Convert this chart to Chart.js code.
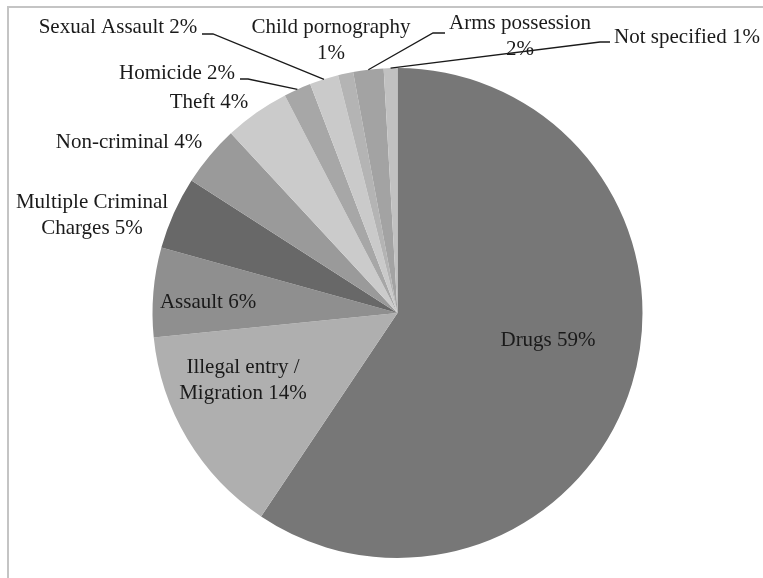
<!DOCTYPE html>
<html>
<head>
<meta charset="utf-8">
<title>Offence categories</title>
<script src="https://cdn.jsdelivr.net/npm/chart.js@4.4.1/dist/chart.umd.min.js"></script>
<style>
  html, body { margin: 0; padding: 0; background: #fff; overflow: hidden; }
  #wrap { position: relative; width: 763px; height: 578px; }
  #frame { position: absolute; left: 7px; top: 6px; width: 820px; height: 640px;
           border: 2px solid #c4c4c4; box-sizing: border-box; }
  #pie { position: absolute; left: 0; top: 0; }
</style>
</head>
<body>
<div id="wrap">
  <div id="frame"></div>
  <canvas id="pie" width="763" height="578"></canvas>
</div>
<script>
'use strict';

// '|' marks where the label wraps onto a second line
var CATEGORIES = ['Drugs', 'Illegal entry /|Migration', 'Assault', 'Multiple Criminal|Charges',
  'Non-criminal', 'Theft', 'Homicide', 'Sexual Assault', 'Child pornography|',
  'Arms possession|', 'Not specified'];
var SHARES = [59.4, 14.0, 5.9, 4.8, 4.0, 4.3, 1.8, 1.9, 1.0, 2.0, 0.9];
var GREYS = ['#777777', '#afafaf', '#8f8f8f', '#686868', '#9a9a9a', '#cbcbcb',
  '#a7a7a7', '#cacaca', '#b4b4b4', '#a3a3a3', '#c1c1c1'];

// label placement (text centre) and optional leader elbow
var LABEL_LAYOUT = [
  { x: 548, y: 340 },
  { x: 243, y: 367 },
  { x: 208, y: 302 },
  { x: 92, y: 202 },
  { x: 129, y: 142 },
  { x: 209, y: 102 },
  { x: 177, y: 73, elbow: [248, 79], end: 240 },
  { x: 118, y: 27, elbow: [213, 34], end: 202 },
  { x: 331, y: 27 },
  { x: 520, y: 23, elbow: [433, 33], end: 445 },
  { x: 687, y: 37, elbow: [600, 42], end: 610 }
];

var total = SHARES.reduce(function (a, b) { return a + b; }, 0);

var labelPlugin = {
  id: 'sliceLabels',
  afterDatasetsDraw: function (chart) {
    var ctx = chart.ctx;
    var arcs = chart.getDatasetMeta(0).data;
    ctx.save();
    ctx.font = '21px "Liberation Serif", "Times New Roman", serif';
    ctx.fillStyle = '#1a1a1a';
    ctx.strokeStyle = '#1a1a1a';
    ctx.lineWidth = 1.3;
    ctx.textAlign = 'center';
    ctx.textBaseline = 'middle';
    arcs.forEach(function (arc, i) {
      var p = arc.getProps(['x', 'y', 'startAngle', 'endAngle', 'outerRadius'], true);
      var lay = LABEL_LAYOUT[i];
      if (lay.elbow) {
        var mid = (p.startAngle + p.endAngle) / 2;
        ctx.beginPath();
        ctx.moveTo(p.x + Math.cos(mid) * p.outerRadius, p.y + Math.sin(mid) * p.outerRadius);
        ctx.lineTo(lay.elbow[0], lay.elbow[1]);
        ctx.lineTo(lay.end, lay.elbow[1]);
        ctx.stroke();
      }
      var pct = Math.round(SHARES[i] / total * 100);
      var lines = (CATEGORIES[i] + ' ' + pct + '%').split('|');
      lines.forEach(function (ln, k) {
        ctx.fillText(ln.trim(), lay.x, lay.y + k * 26);
      });
    });
    ctx.restore();
  }
};

new Chart(document.getElementById('pie'), {
  type: 'pie',
  data: {
    labels: CATEGORIES.map(function (c) { return c.replace('|', ' ').trim(); }),
    datasets: [{
      data: SHARES,
      backgroundColor: GREYS,
      borderWidth: 0
    }]
  },
  options: {
    responsive: false,
    animation: false,
    devicePixelRatio: 1,
    layout: { padding: { left: 152, right: 120, top: 68, bottom: 20 } },
    plugins: {
      legend: { display: false },
      tooltip: { enabled: false }
    }
  },
  plugins: [labelPlugin]
});
</script>
</body>
</html>
